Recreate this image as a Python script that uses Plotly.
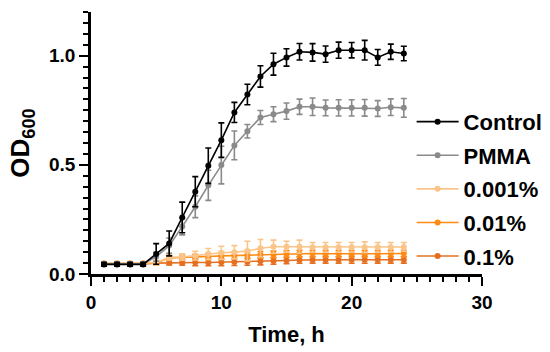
import plotly.graph_objects as go

hours = list(range(1, 25))

control = [0.044, 0.044, 0.044, 0.044, 0.092, 0.140, 0.259, 0.377, 0.496, 0.613, 0.740, 0.822,
           0.905, 0.961, 0.992, 1.018, 1.015, 1.007, 1.025, 1.025, 1.025, 0.992, 1.018, 1.010]
control_err = [0.008, 0.008, 0.008, 0.008, 0.047, 0.057, 0.070, 0.069, 0.081, 0.079, 0.046, 0.047,
               0.049, 0.050, 0.040, 0.038, 0.040, 0.037, 0.037, 0.035, 0.045, 0.036, 0.035, 0.033]

pmma = [0.047, 0.047, 0.047, 0.047, 0.079, 0.130, 0.217, 0.308, 0.406, 0.499, 0.589, 0.654,
        0.717, 0.732, 0.746, 0.766, 0.766, 0.761, 0.761, 0.761, 0.761, 0.758, 0.764, 0.761]
pmma_err = [0.008, 0.008, 0.008, 0.008, 0.020, 0.035, 0.038, 0.050, 0.069, 0.086, 0.066, 0.031,
            0.032, 0.034, 0.037, 0.035, 0.040, 0.036, 0.037, 0.037, 0.038, 0.036, 0.038, 0.043]

p0001 = [0.050, 0.050, 0.050, 0.050, 0.052, 0.076, 0.078, 0.084, 0.092, 0.097, 0.100, 0.105,
         0.118, 0.125, 0.125, 0.125, 0.122, 0.122, 0.122, 0.122, 0.122, 0.122, 0.122, 0.124]
p0001_err = [0.005, 0.005, 0.005, 0.005, 0.010, 0.012, 0.015, 0.020, 0.025, 0.030, 0.030, 0.045,
             0.040, 0.030, 0.025, 0.030, 0.022, 0.022, 0.022, 0.022, 0.025, 0.022, 0.022, 0.020]

p001 = [0.048, 0.048, 0.048, 0.048, 0.050, 0.074, 0.075, 0.078, 0.080, 0.083, 0.085, 0.086,
        0.088, 0.090, 0.092, 0.094, 0.094, 0.093, 0.094, 0.093, 0.093, 0.093, 0.094, 0.094]
p001_err = [0.005, 0.005, 0.005, 0.005, 0.008, 0.010, 0.012, 0.012, 0.014, 0.015, 0.015, 0.015,
            0.015, 0.015, 0.015, 0.015, 0.015, 0.015, 0.015, 0.015, 0.015, 0.015, 0.015, 0.015]

p01 = [0.046, 0.046, 0.046, 0.046, 0.050, 0.052, 0.052, 0.053, 0.053, 0.054, 0.055, 0.056,
       0.058, 0.060, 0.062, 0.064, 0.065, 0.065, 0.065, 0.065, 0.065, 0.065, 0.065, 0.065]
p01_err = [0.005, 0.005, 0.005, 0.005, 0.008, 0.010, 0.012, 0.015, 0.015, 0.016, 0.016, 0.016,
           0.016, 0.015, 0.015, 0.015, 0.015, 0.015, 0.015, 0.016, 0.016, 0.015, 0.015, 0.015]

series = [
    ("0.1%", p01, p01_err, "#E5701F", 5),
    ("0.01%", p001, p001_err, "#FF8A14", 4),
    ("0.001%", p0001, p0001_err, "#FBC58A", 3),
    ("PMMA", pmma, pmma_err, "#8A8A8A", 2),
    ("Control", control, control_err, "#000000", 1),
]

FONT = "Arial, Liberation Sans, sans-serif"

fig = go.Figure()
for name, vals, errs, color, rank in series:
    fig.add_trace(go.Scatter(
        x=hours, y=vals, name=name, mode="lines+markers",
        line=dict(color=color, width=1.6),
        marker=dict(color=color, size=6),
        error_y=dict(type="data", array=errs, visible=True, color=color,
                     thickness=1.6, width=3),
        legendrank=rank, legendgroup=name,
    ))

fig.update_layout(
    width=550, height=352,
    margin=dict(l=91, r=68, t=12, b=78, autoexpand=False),
    paper_bgcolor="white", plot_bgcolor="white",
    font=dict(family=FONT, color="black"),
    showlegend=True,
    legend=dict(
        x=0.82, y=0.325, xanchor="left", yanchor="middle",
        font=dict(family=FONT, size=22, weight="bold", color="black"),
        tracegroupgap=2, itemwidth=42, bgcolor="rgba(0,0,0,0)",
    ),
    xaxis=dict(
        range=[0, 30], dtick=10, tick0=0, automargin=False,
        showgrid=False, zeroline=False,
        showline=True, linecolor="black", linewidth=2.5,
        ticks="outside", ticklen=9, tickwidth=2, tickcolor="black",
        minor=dict(dtick=1, ticks="outside", ticklen=5, tickwidth=2, tickcolor="black", showgrid=False),
        tickfont=dict(family=FONT, size=19, weight="bold", color="black"),
        title=dict(text="Time, h", font=dict(family=FONT, size=22, weight="bold", color="black"), standoff=16),
        fixedrange=True,
    ),
    yaxis=dict(
        range=[0, 1.2], dtick=0.5, tick0=0, tickformat=".1f", automargin=False,
        showgrid=False, zeroline=False,
        showline=True, linecolor="black", linewidth=2.5,
        ticks="outside", ticklen=9, tickwidth=2, tickcolor="black",
        minor=dict(dtick=0.05, ticks="outside", ticklen=5, tickwidth=2, tickcolor="black", showgrid=False),
        tickfont=dict(family=FONT, size=19, weight="bold", color="black"),
        title=dict(text="OD<sub>600</sub>", font=dict(family=FONT, size=26, weight="bold", color="black"), standoff=12),
        fixedrange=True,
    ),
)

fig.write_html("out.html", config={"displayModeBar": False},
               post_script="document.body.style.margin='0';")
